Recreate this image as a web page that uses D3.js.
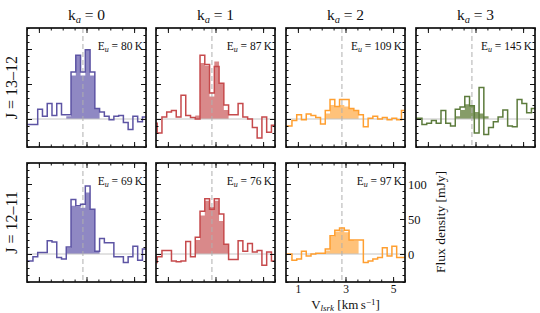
<!DOCTYPE html>
<html>
<head>
<meta charset="utf-8">
<script src="https://cdn.jsdelivr.net/npm/d3@7"></script>
<style>
body { margin: 0; background: #fff; }
svg { display: block; }
text { font-family: "Liberation Serif", "DejaVu Serif", serif; fill: #111; }
</style>
</head>
<body>
<div id="chart"></div>
<script>
// channel centres (km/s) and the channels used for the shaded line
const velocity = [0.45, 0.65, 0.85, 1.05, 1.25, 1.45, 1.65, 1.85, 2.05, 2.25, 2.45, 2.65, 2.85,
    3.05, 3.25, 3.45, 3.65, 3.85, 4.05, 4.25, 4.45, 4.65, 4.85, 5.05, 5.25, 5.45]
const lineVelocity = [2.25, 2.45, 2.65, 2.85, 3.05, 3.25, 3.45]

const kaLabels = ['0', '1', '2', '3']
const jLabels = ['13–12', '12–11']
const eu1312 = [80, 87, 109, 145]
const eu1211 = [69, 76, 97]
const vSys = 2.85
const xTickLabels = [1, 3, 5]
const yTickLabels = [0, 50, 100]

// flux density (mJy), J = 13-12
const k0J13 = [-8, -8, -8, 14, 4, 22, 5, 22, 6, 6, 67, 91, 67, 99, 67, 15, 10, 4, -1, 4, 5, -5, -15, 4, -4, 3]
const k1J13 = [-6, -20, 3, 10, 12, 3, 34, 5, 2, 0, 91, 78, 37, 75, 51, 20, 6, 6, 22, 3, 0, -12, -27, 3, -19, -9]
const k2J13 = [-10, -10, -2, 6, -1, 7, 5, 2, -7, 12, 28, 18, 28, 28, 15, 12, 6, -11, 1, 4, 0, 2, -1, 1, -1, 12]
const k3J13 = [1, 1, -8, -6, -2, -6, 12, -6, -10, 14, 17, 32, 19, -20, 45, -22, -12, -4, 3, 13, -10, -11, 28, 22, 9, 15]
const k0J13fill = [4, 62, 91, 62, 99, 62, 15]
const k1J13fill = [5, 80, 76, 32, 82, 51, 13]
const k2J13fill = [8, 20, 18, 20, 18, 15, 12]
const k3J13fill = [4, 13, 21, 19, 10, 8, 4]

// flux density (mJy), J = 12-11
const k0J12 = [-10, -10, -4, 2, 2, 19, 17, -5, -7, 10, 78, 69, 71, 97, 64, 4, 22, 16, 16, -4, -4, -12, -4, 11, -9, 7]
const k1J12 = [-12, -4, 5, 5, -10, -11, -10, 18, -4, 24, 61, 79, 64, 79, 57, 14, -8, -8, 19, 4, 15, 3, 5, -16, 3, -10]
const k2J12 = [0, 0, -9, -7, 4, -3, 0, 1, 1, 7, 26, 34, 37, 34, 20, 20, 20, -12, -10, -7, -5, 9, -3, 11, -5, -5]
const k0J12fill = [9, 69, 68, 66, 88, 64, 4]
const k1J12fill = [20, 55, 76, 67, 76, 47, 14]
const k2J12fill = [5, 25, 32, 35, 31, 20, 19]

const lineColors = ['#5d54a4', '#c64a4c', '#ff9f30', '#5c7b3c']
const fillColors = ['#8f88c3', '#d9898a', '#ffc27a', '#869c68']

const panels = [
    { row: 0, col: 0, flux: k0J13, fill: k0J13fill, eu: eu1312[0] },
    { row: 0, col: 1, flux: k1J13, fill: k1J13fill, eu: eu1312[1] },
    { row: 0, col: 2, flux: k2J13, fill: k2J13fill, eu: eu1312[2] },
    { row: 0, col: 3, flux: k3J13, fill: k3J13fill, eu: eu1312[3] },
    { row: 1, col: 0, flux: k0J12, fill: k0J12fill, eu: eu1211[0] },
    { row: 1, col: 1, flux: k1J12, fill: k1J12fill, eu: eu1211[1] },
    { row: 1, col: 2, flux: k2J12, fill: k2J12fill, eu: eu1211[2] },
]

const w = 540
const h = 313
const size = 119
const lefts = [27, 156, 286, 416]
const tops = [28, 163]
const half = 0.1

const svg = d3.select('#chart').append('svg').attr('width', w).attr('height', h)

const x = d3.scaleLinear().domain([0.5, 5.5]).range([0, size])
const y = d3.scaleLinear().domain([-40, 130]).range([size, 0])

const steps = (vs, fs) => vs.flatMap((v, i) => [[v - half, fs[i]], [v + half, fs[i]]])
const line = d3.line().x(d => x(d[0])).y(d => y(d[1]))
const area = d3.area().x(d => x(d[0])).y0(y(0)).y1(d => y(d[1]))

svg.append('defs').append('clipPath').attr('id', 'clip')
    .append('rect').attr('width', size).attr('height', size)

panels.forEach(p => {
    const g = svg.append('g').attr('transform', `translate(${lefts[p.col]},${tops[p.row]})`)
    const inner = g.append('g').attr('clip-path', 'url(#clip)')

    inner.append('path')
        .attr('d', area(steps(lineVelocity, p.fill)))
        .attr('fill', fillColors[p.col])

    inner.append('line')
        .attr('x1', 0).attr('x2', size)
        .attr('y1', y(0)).attr('y2', y(0))
        .attr('stroke', '#c4c4c4').attr('stroke-width', 1)

    inner.append('line')
        .attr('x1', x(vSys)).attr('x2', x(vSys))
        .attr('y1', 0).attr('y2', size)
        .attr('stroke', '#b0b0b0').attr('stroke-width', 1)
        .attr('stroke-dasharray', '5,3')

    inner.append('path')
        .attr('d', line(steps(velocity, p.flux)))
        .attr('fill', 'none')
        .attr('stroke', lineColors[p.col])
        .attr('stroke-width', 1.5)

    // ticks on all four sides, pointing in
    const minorX = x.ticks(10)
    const minorY = y.ticks(17)
    const last = p.row === 1 && p.col === 2
    const sides = [
        [() => d3.axisBottom(x), `translate(0,${size})`],
        [() => d3.axisTop(x), 'translate(0,0)'],
        [() => d3.axisLeft(y), 'translate(0,0)'],
        [() => d3.axisRight(y), `translate(${size},0)`],
    ]
    sides.forEach(([mk, tr], k) => {
        const isX = k < 2
        g.append('g').attr('transform', tr)
            .call(mk().tickValues(isX ? minorX : minorY).tickSize(-2.5).tickFormat(''))
            .call(a => a.select('.domain').remove())
            .call(a => a.selectAll('line').attr('stroke', '#111'))
        const showLabels = last && (k === 0 || k === 3)
        g.append('g').attr('transform', tr)
            .call(mk().tickValues(isX ? xTickLabels : yTickLabels).tickSize(-5).tickPadding(isX ? 3 : 3)
                .tickFormat(showLabels ? d3.format('d') : ''))
            .call(a => a.select('.domain').remove())
            .call(a => a.selectAll('line').attr('stroke', '#111'))
            .call(a => a.selectAll('text').attr('font-size', isX ? 11.5 : 12.5)
                .attr('font-family', '"Liberation Serif", serif').attr('fill', '#111'))
    })

    g.append('rect')
        .attr('width', size).attr('height', size)
        .attr('fill', 'none').attr('stroke', '#111').attr('stroke-width', 1.7)

    const eu = g.append('text')
        .attr('x', size - 3).attr('y', 22)
        .attr('text-anchor', 'end')
        .attr('font-size', 11.5)
    eu.append('tspan').text('E')
    eu.append('tspan').text('u').attr('font-style', 'italic').attr('font-size', 8).attr('dy', 2)
    eu.append('tspan').text(` = ${p.eu}\u2009K`).attr('dy', -2)
})

// column titles
kaLabels.forEach((k, i) => {
    const t = svg.append('text')
        .attr('x', lefts[i] + size / 2).attr('y', 20)
        .attr('text-anchor', 'middle')
        .attr('font-size', 15.5)
    t.append('tspan').text('k')
    t.append('tspan').text('a').attr('font-style', 'italic').attr('font-size', 10.5).attr('dy', 3)
    t.append('tspan').text(' = ' + k).attr('dy', -3)
})

// row titles
jLabels.forEach((j, i) => {
    svg.append('text')
        .attr('transform', `translate(17,${tops[i] + size / 2}) rotate(-90)`)
        .attr('text-anchor', 'middle')
        .attr('font-size', 16)
        .text('J = ' + j)
})

// x label
const xl = svg.append('text')
    .attr('x', lefts[2] + size / 2).attr('y', 309)
    .attr('text-anchor', 'middle')
    .attr('font-size', 13)
xl.append('tspan').text('V')
xl.append('tspan').text('lsrk').attr('font-style', 'italic').attr('font-size', 9).attr('dy', 2)
xl.append('tspan').text(' [km\u2009s').attr('dy', -2)
xl.append('tspan').text('\u22121').attr('font-size', 9).attr('dy', -4)
xl.append('tspan').text(']').attr('dy', 4)

// y label
svg.append('text')
    .attr('transform', `translate(445,${tops[1] + 59}) rotate(-90)`)
    .attr('text-anchor', 'middle')
    .attr('font-size', 13.5)
    .text('Flux density [mJy]')
</script>
</body>
</html>
